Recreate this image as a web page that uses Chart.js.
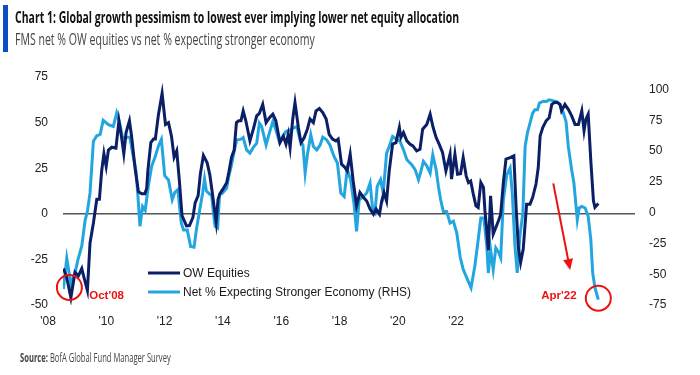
<!DOCTYPE html>
<html>
<head>
<meta charset="utf-8">
<script src="https://cdn.jsdelivr.net/npm/chart.js@4.4.1/dist/chart.umd.min.js"></script>
<style>
  body { margin: 0; background: #fff; }
  #wrap { position: relative; width: 700px; height: 375px; overflow: hidden; }
  #bar { position: absolute; left: 3px; top: 5px; width: 5px; height: 47px; background: #0b4fc7; }
  .txt { position: absolute; left: 15px; white-space: nowrap; font-family: "Open Sans", sans-serif; transform-origin: 0 0; line-height: normal; }
  #title { top: 5px; font-size: 16.5px; font-weight: 700; color: #111; }
  #subtitle { top: 27px; font-size: 16.5px; color: #444; }
  #source { top: 348px; left: 20px; font-size: 13px; color: #444; }
  canvas { position: absolute; left: 0; top: 0; }
</style>
</head>
<body>
<div id="wrap">
  <canvas id="fmsChart" width="700" height="375"></canvas>
  <div id="bar"></div>
  <div id="title" class="txt">Chart 1: Global growth pessimism to lowest ever implying lower net equity allocation</div>
  <div id="subtitle" class="txt">FMS net % OW equities vs net % expecting stronger economy</div>
  <div id="source" class="txt"><b>Source:</b> BofA Global Fund Manager Survey</div>
</div>
<script>
// survey dates as decimal years, values as net %
const owTimes = [
  2008.01, 2008.09, 2008.21, 2008.32, 2008.41, 2008.50, 2008.56, 2008.65, 2008.72, 2008.81, 2008.90, 2008.97,
  2009.03, 2009.09, 2009.15, 2009.21, 2009.30, 2009.41, 2009.49, 2009.56, 2009.62, 2009.68, 2009.77, 2009.83, 2009.92,
  2010.01, 2010.10, 2010.18, 2010.23, 2010.26, 2010.34, 2010.41, 2010.46, 2010.54, 2010.64, 2010.73, 2010.81, 2010.89, 2010.96,
  2011.03, 2011.10, 2011.17, 2011.29, 2011.37, 2011.46, 2011.52, 2011.60, 2011.66, 2011.74, 2011.84, 2011.91, 2011.97,
  2012.04, 2012.08, 2012.13, 2012.18, 2012.26, 2012.36, 2012.42, 2012.49, 2012.56, 2012.62, 2012.68, 2012.74, 2012.80, 2012.87, 2012.98,
  2013.07, 2013.16, 2013.23, 2013.32, 2013.41, 2013.50, 2013.59, 2013.67, 2013.78, 2013.87, 2013.94,
  2014.00, 2014.05, 2014.12, 2014.18, 2014.27, 2014.34, 2014.42, 2014.51, 2014.58, 2014.67, 2014.74, 2014.83, 2014.92,
  2015.01, 2015.09, 2015.18, 2015.27, 2015.33, 2015.42, 2015.51, 2015.57, 2015.65, 2015.73, 2015.82, 2015.91,
  2016.00, 2016.09, 2016.18, 2016.27, 2016.34, 2016.43, 2016.49, 2016.55, 2016.62, 2016.69, 2016.78, 2016.87, 2016.96,
  2017.00, 2017.07, 2017.16, 2017.24, 2017.32, 2017.42, 2017.51, 2017.58, 2017.69, 2017.78, 2017.86, 2017.94,
  2018.02, 2018.11, 2018.20, 2018.31, 2018.35, 2018.44, 2018.51, 2018.59, 2018.66, 2018.74, 2018.80, 2018.86, 2018.93,
  2019.00, 2019.06, 2019.13, 2019.20, 2019.24, 2019.29, 2019.33, 2019.39, 2019.46, 2019.53, 2019.60, 2019.66, 2019.73, 2019.80, 2019.91,
  2020.01, 2020.07, 2020.13, 2020.19, 2020.26, 2020.35, 2020.44, 2020.51, 2020.60, 2020.66, 2020.71, 2020.78, 2020.87, 2020.95,
  2021.02, 2021.09, 2021.17, 2021.24, 2021.28, 2021.37, 2021.46, 2021.55, 2021.64, 2021.73, 2021.82, 2021.88, 2021.93, 2021.99,
  2022.06, 2022.13, 2022.17, 2022.26
];
const owValues = [
  -30, -34, -46, -32, -34, -30, -35, -42, -16, -5, 8, 8,
  23.5, 33, 26, 35, 36.5, 36, 51, 42, 33, 44.5, 51, 42, 25,
  12, 11, 11, 14, 23.5, 39, 41, 41, 54, 66, 49, 50, 42.5, 31,
  34.5, 18, -1, -6.6, -6.5, -2, 6, 10, 22, 32, 28, 21.5, 12.6,
  1.6, -4.5, 8, 11, 13.5, 17, 23, 31, 35, 50, 51, 51, 56.4, 51, 40,
  46.4, 53.7, 55, 60, 50, 52.7, 54.6, 51, 39, 42.5, 38.2,
  43.6, 36.3, 52, 61, 47.3, 39, 41.5, 46.4, 52, 50, 56.4, 57.7, 55.5,
  52, 43.6, 41, 40, 41, 27.2, 25.4, 23.5, 32.7, 18, 4.4, 11.7,
  9, 7, 2.6, -0.2, 2.6, -0.2, 7, 11.7, 7, 23.5, 38.2, 39, 47.3,
  41.8, 44.5, 40, 38.2, 37.2, 34.5, 35.4, 46.4, 49, 54.6, 47.3, 41.8,
  38.2, 33.6, 23.5, 32.7, 19, 32.7, 21.7, 22, 30.8, 20.8, 17.1, 18, 10.8,
  4.4, 3.5, 17.1, 14.4, 1.6, -9.3, -20, 9.9, -11.1, -7.5, -3.8, -0.2, 17.1, 30, 30.8,
  31.8, 3.5, -18.5, -26.7, -19.3, 5.3, 5.3, 8.9, 16.3, 25.4, 42.7, 47.3, 51, 52.7,
  60, 61, 61, 60, 56.4, 60, 57.3, 53.7, 49, 49, 56.4, 45.5, 51.9, 54.6,
  29, 7.1, 3.5, 5.6
];
const econTimes = [
  2008.01, 2008.10, 2008.21, 2008.32, 2008.40, 2008.50, 2008.59, 2008.65, 2008.72, 2008.81, 2008.90, 2008.99,
  2009.07, 2009.21, 2009.34, 2009.43, 2009.50, 2009.59, 2009.68, 2009.78, 2009.87, 2009.94, 2009.99,
  2010.05, 2010.12, 2010.19, 2010.27, 2010.36, 2010.45, 2010.54, 2010.62, 2010.71, 2010.81, 2010.91, 2010.98,
  2011.06, 2011.15, 2011.21, 2011.31, 2011.40, 2011.49, 2011.56, 2011.64, 2011.72, 2011.77, 2011.82, 2011.91, 2011.96,
  2012.00, 2012.05, 2012.12, 2012.17, 2012.25, 2012.36, 2012.42, 2012.48, 2012.56, 2012.63, 2012.73, 2012.80, 2012.89, 2012.98,
  2013.07, 2013.16, 2013.23, 2013.29, 2013.41, 2013.50, 2013.59, 2013.67, 2013.76, 2013.85, 2013.94,
  2014.05, 2014.13, 2014.23, 2014.31, 2014.39, 2014.45, 2014.51, 2014.60, 2014.67, 2014.76, 2014.85, 2014.92,
  2015.02, 2015.11, 2015.22, 2015.31, 2015.40, 2015.49, 2015.57, 2015.66, 2015.75, 2015.82, 2015.89,
  2016.00, 2016.09, 2016.18, 2016.25, 2016.31, 2016.37, 2016.46, 2016.53, 2016.62, 2016.69, 2016.78, 2016.89, 2016.98,
  2017.07, 2017.16, 2017.29, 2017.38, 2017.47, 2017.53, 2017.60, 2017.69, 2017.78, 2017.85, 2017.94,
  2018.00, 2018.06, 2018.13, 2018.22, 2018.31, 2018.40, 2018.49, 2018.58, 2018.66, 2018.77, 2018.87, 2018.97,
  2019.06, 2019.13, 2019.21, 2019.29, 2019.33, 2019.39, 2019.46, 2019.53, 2019.60, 2019.66, 2019.73, 2019.82, 2019.91, 2019.97,
  2020.04, 2020.10, 2020.17, 2020.25, 2020.31, 2020.37, 2020.44, 2020.51, 2020.57, 2020.64, 2020.69, 2020.78, 2020.87, 2020.95,
  2021.05, 2021.15, 2021.24, 2021.33, 2021.40, 2021.46, 2021.55, 2021.61, 2021.70, 2021.75, 2021.82, 2021.91, 2021.99,
  2022.06, 2022.11, 2022.17, 2022.26
];
const econValues = [
  -62, -37, -58, -49, -38, -27, -6, 1, 16, 58, 62.5, 63.5,
  75, 71.4, 70, 81, 74, 60.6, 61, 61.4, 45.7, 35, 16,
  -11, 5, 2, 21, 37.5, 45, 54, 59.5, 30, 26.5, 10.5, 16.5,
  18.7, -8.4, -14, -14, -27.5, -28, -12.5, 2, 16, 27.5, 17.5, 15, 14,
  2, -11, -12.5, 14.6, 16, 20, 30, 37.5, 49.7, 59.2, 59.5, 61, 51, 48.4,
  53, 56.5, 72.7, 70, 55, 65, 74, 67.3, 57.8, 62, 65.9,
  67.3, 68.7, 70, 59.2, 55, 32.2, 47, 63.3, 53.8, 51, 55, 61.4,
  59.2, 55, 45.7, 40.3, 16, 13.2, 34.9, 27, 7.9, -15.2, 10.5,
  13, 16, 24, 2.4, 0, 21.3, 26.8, 16, 48.4, 53.8, 61.9, 59.5, 57.8,
  51, 43, 38.9, 35, 26.8, 33, 41.6, 38, 32.2, 47, 34.9,
  21.3, 10.5, 1, 1, -8.4, -7, -16.5, -36, -46, -54, -61, -43.5,
  -22, -4.3, -4.3, -27.3, -49, -30, -46.2, -28.6, -32, -36.7, 10.5, 30.8, 36.3, 15,
  -27.3, -49, -19.2, -0.2, 53.8, 64.6, 72.7, 80.9, 83.5, 83.5, 89, 90.3, 90.3, 91.6,
  91, 90.3, 87.6, 80.9, 74, 53.8, 34.9, 24, -5.7, 3.8, 5.1, 3.8, -3,
  -21.9, -48.9, -61, -70.6
];
const leftTicks = [-50, -25, 0, 25, 50, 75];
const rightTicks = [-75, -50, -25, 0, 25, 50, 75, 100];
const yearTicks = [2008, 2010, 2012, 2014, 2016, 2018, 2020, 2022];

const navy = '#0b1f66';
const sky = '#23a6e0';
const red = '#ee1111';
const tickFont = { family: '"Liberation Sans", Arial, sans-serif', size: 12 };

// squeeze the html headings to the condensed widths of the original
const fitWidth = (id, w) => {
  const el = document.getElementById(id);
  el.style.transform = `scaleX(${w / el.offsetWidth})`;
};
fitWidth('title', 444);
fitWidth('subtitle', 300);
fitWidth('source', 151);

const toPoints = (ts, vs) => ts.map((t, i) => ({ x: t, y: vs[i] }));

// legend inside the plot plus the red call-outs
const notes = {
  id: 'notes',
  afterDatasetsDraw(chart) {
    const { ctx, chartArea, scales } = chart;
    const x = scales.x, yl = scales.y, yr = scales.y1;
    ctx.save();

    chart.data.datasets.forEach((ds, i) => {
      const lx = chartArea.left + 85;
      const ly = chartArea.bottom - 32 + i * 19;
      ctx.strokeStyle = ds.borderColor;
      ctx.lineWidth = 3;
      ctx.beginPath();
      ctx.moveTo(lx, ly);
      ctx.lineTo(lx + 32, ly);
      ctx.stroke();
      ctx.fillStyle = '#1a1a1a';
      ctx.font = '12px "Liberation Sans", Arial, sans-serif';
      ctx.textAlign = 'left';
      ctx.textBaseline = 'middle';
      ctx.fillText(ds.label, lx + 35, ly + 1);
    });

    ctx.strokeStyle = red;
    ctx.fillStyle = red;
    ctx.lineWidth = 2;
    ctx.beginPath();
    ctx.arc(x.getPixelForValue(2008.17), yl.getPixelForValue(-40.4), 12.5, 0, Math.PI * 2);
    ctx.stroke();
    ctx.beginPath();
    ctx.arc(x.getPixelForValue(2022.26), yr.getPixelForValue(-69.5), 12.5, 0, Math.PI * 2);
    ctx.stroke();

    ctx.font = 'bold 11.5px "Liberation Sans", Arial, sans-serif';
    ctx.textBaseline = 'middle';
    ctx.textAlign = 'left';
    ctx.fillText("Oct'08", x.getPixelForValue(2008.70), yl.getPixelForValue(-45));
    ctx.textAlign = 'right';
    ctx.fillText("Apr'22", x.getPixelForValue(2021.68), yr.getPixelForValue(-67.7));

    // arrow
    const x0 = x.getPixelForValue(2021.06), y0 = yr.getPixelForValue(23.8);
    const x1 = x.getPixelForValue(2021.51), y1 = yr.getPixelForValue(-46.6);
    const a = Math.atan2(y1 - y0, x1 - x0);
    ctx.beginPath();
    ctx.moveTo(x0, y0);
    ctx.lineTo(x1 - 9 * Math.cos(a), y1 - 9 * Math.sin(a));
    ctx.stroke();
    ctx.beginPath();
    ctx.moveTo(x1, y1);
    ctx.lineTo(x1 - 11 * Math.cos(a) + 5 * Math.sin(a), y1 - 11 * Math.sin(a) - 5 * Math.cos(a));
    ctx.lineTo(x1 - 11 * Math.cos(a) - 5 * Math.sin(a), y1 - 11 * Math.sin(a) + 5 * Math.cos(a));
    ctx.closePath();
    ctx.fill();

    ctx.restore();
  }
};

new Chart(document.getElementById('fmsChart'), {
  type: 'line',
  data: {
    datasets: [
      {
        label: 'OW Equities',
        data: toPoints(owTimes, owValues),
        borderColor: navy,
        borderWidth: 3,
        pointRadius: 0,
        tension: 0,
        yAxisID: 'y',
      },
      {
        label: 'Net % Expecting Stronger Economy (RHS)',
        data: toPoints(econTimes, econValues),
        borderColor: sky,
        borderWidth: 3,
        pointRadius: 0,
        tension: 0,
        yAxisID: 'y1',
      },
    ],
  },
  options: {
    responsive: false,
    animation: false,
    layout: { padding: { top: 77, right: 0, bottom: 0, left: 0 } },
    plugins: { legend: { display: false }, tooltip: { enabled: false } },
    scales: {
      x: {
        type: 'linear',
        min: 2008,
        max: 2023.237,
        display: false,
      },
      years: {
        type: 'linear',
        position: 'bottom',
        min: 2008,
        max: 2027.62,
        afterBuildTicks: (axis) => { axis.ticks = yearTicks.map((v) => ({ value: v })); },
        afterFit: (axis) => { axis.height = 70; },
        grid: { display: false, drawTicks: false },
        border: { display: false },
        ticks: {
          font: tickFont,
          color: '#222',
          padding: 9,
          labelOffset: -15,
          maxRotation: 0,
          autoSkip: false,
          callback: (v) => "'" + String(v).slice(2),
        },
      },
      y: {
        position: 'left',
        min: -50,
        max: 75,
        afterBuildTicks: (axis) => { axis.ticks = leftTicks.map((v) => ({ value: v })); },
        afterFit: (axis) => { axis.width = 63; },
        grid: {
          drawTicks: false,
          color: (c) => (c.tick && c.tick.value === 0 ? '#555' : 'rgba(0,0,0,0)'),
          lineWidth: 1.5,
        },
        border: { display: false },
        ticks: { font: tickFont, color: '#222', padding: 15 },
      },
      y1: {
        position: 'right',
        min: -75,
        max: 110.2,
        afterBuildTicks: (axis) => { axis.ticks = rightTicks.map((v) => ({ value: v })); },
        afterFit: (axis) => { axis.width = 65; },
        grid: { display: false, drawTicks: false },
        border: { display: false },
        ticks: { font: tickFont, color: '#222', padding: 14 },
      },
    },
  },
  plugins: [notes],
});
</script>
</body>
</html>
